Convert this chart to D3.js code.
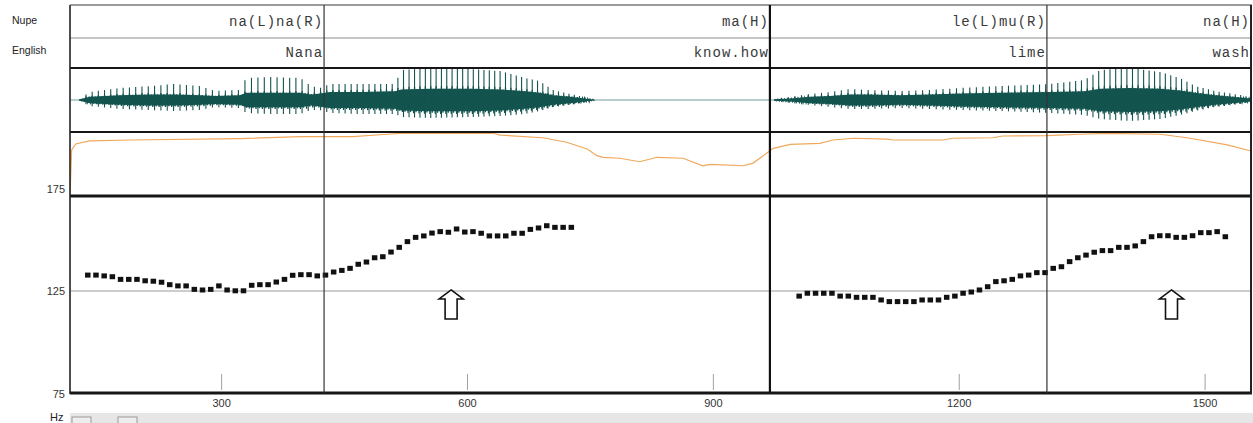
<!DOCTYPE html>
<html><head><meta charset="utf-8">
<script src="https://cdn.jsdelivr.net/npm/d3@7"></script>
<style>
html,body{margin:0;padding:0;background:#fff;}
svg{display:block;}
</style>
</head><body>
<svg id="c" width="1253" height="423"></svg>
<script>
// ---------------- DATA ----------------
const tierNames = ["Nupe", "English"];
const nupeLabels = ["na(L)na(R)", "ma(H)", "le(L)mu(R)", "na(H)"];
const englishLabels = ["Nana", "know.how", "lime", "wash"];
const intervalEnds = [425, 969, 1307, 1556];          // ms
const intervalEndThick = [false, true, false, false];
const timeDomain = [115, 1556];                         // ms
const xTicks = [300, 600, 900, 1200, 1500];
const yTicks = [75, 125, 175];                          // Hz
const gridHz = [125];

const pitch1Time = [137,147,157,167,177,187,197,207,217,227,237,247,257,267,277,287,297,307,317,327,
  337,347,357,367,377,387,397,407,417,427,437,447,457,467,477,487,497,507,517,527,
  537,547,557,567,577,587,597,607,617,627,637,647,657,667,677,687,697,707,717,727];
const pitch1Hz = [132.8,132.8,132.4,132.0,130.7,130.7,130.7,130.0,129.8,129.3,128.1,127.5,127.5,125.8,125.5,
  125.8,127.5,125.5,125.1,125.1,127.8,128.1,128.1,129.4,130.7,132.7,133.0,133.0,132.4,
  132.8,134.3,135.1,136.1,138.1,139.2,141.3,141.8,144.1,146.4,149.2,151.3,152.0,153.4,154.1,153.8,
  155.4,153.9,154.1,153.3,152.0,152.0,152.0,153.3,153.3,155.2,155.9,157.0,156.2,156.2,156.2];
const pitch2Time = [1005,1015,1025,1035,1045,1055,1065,1075,1085,1095,1105,1115,1125,1135,1145,1155,1165,1175,1185,1195,
  1205,1215,1225,1235,1245,1255,1265,1275,1285,1295,1305,1315,1325,1335,1345,1355,1365,1375,1385,1395,
  1405,1415,1425,1435,1445,1455,1465,1475,1485,1495,1505,1515,1525];
const pitch2Hz = [122.5,123.9,123.9,123.9,123.9,122.5,122.5,121.9,121.9,121.9,
  120.6,119.8,119.8,119.8,119.8,120.6,120.6,120.6,121.9,122.5,
  123.9,124.5,125.5,127.1,129.6,130.0,130.7,132.4,132.8,134.0,
  134.0,136.1,136.9,139.4,141.3,142.6,144.0,144.8,144.8,146.4,
  146.4,147.1,149.2,151.6,152.1,152.1,151.3,151.3,152.1,153.6,
  153.6,154.1,151.6];

const intTime = [115,117,122,139,188,322,396,460,502,518,631,640,692,721,746,758,765,786,810,823,
  831,863,887,896,936,948,965,973,994,1030,1046,1071,1112,1119,1180,1192,1241,1253,1307,1347,
  1380,1445,1478,1527,1556];
const intDb = [40,68.8,72.5,74.4,75.0,75.9,77.1,77.1,78.6,79.2,79.2,78.1,76.4,73.6,69.4,65.2,64.2,63.6,61.4,63.1,
  64.2,63.6,58.9,59.8,58.9,60.4,66.7,69.8,72.3,72.9,75.0,76.1,75.6,75.0,75.0,76.1,76.4,77.5,77.7,78.6,
  79.2,78.6,76.4,71.9,68.1];

// waveform envelope (amplitude units, full scale = 32)
const waveATime = [127,139,176,213,243,274,292,322,330,359,396,409,420,432,469,512,519,554,603,640,670,688,704,725,743,754];
const waveACore = [1,4,6,7,7,6,5,6,9,9,9,7,8,10,10,11,13,14,14,13,11,9,6,4,2,0];
const waveAPeak = [1,8,12,14,16,14,9,10,22,23,22,14,12,16,16,16,30,32,31,29,22,19,10,6,3,0];
const waveATrough = [1,6,9,10,11,10,7,8,13,14,14,10,10,13,14,14,17,18,17,16,14,11,7,5,2,0];
const waveBTime = [975,994,1018,1042,1067,1091,1128,1164,1201,1250,1311,1353,1372,1408,1445,1469,1488,1512,1543,1555];
const waveBCore = [1,2,4,5,7,7,6,7,8,9,10,11,14,15,14,12,9,6,3,2];
const waveBPeak = [1,3,6,8,11,10,9,10,12,14,16,20,30,32,28,22,14,9,5,3];
const waveBTrough = [1,3,5,7,9,9,8,9,10,11,13,15,19,21,19,15,11,7,4,2];

const arrowTime = [580, 1459];
const arrowHz = [125.5, 125.5];

// ---------------- LAYOUT ----------------
const L = 70, R = 1251;
const tierTop = 5, tier1Bot = 38, tier2Bot = 68, waveBot = 132, intBot = 196, pitchBot = 393;

const svg = d3.select("#c");
const x = d3.scaleLinear().domain(timeDomain).range([L, R]);
const yP = d3.scaleLinear().domain([75, 175]).range([pitchBot, 189]);
const yI = d3.scaleLinear().domain([40, 80]).range([intBot, waveBot]);
const yW = d3.scaleLinear().domain([-32, 32]).range([waveBot, tier2Bot]);

svg.append("rect").attr("x", 0).attr("y", 0).attr("width", 1253).attr("height", 423).attr("fill", "#fff");

const defs = svg.append("defs");
defs.append("clipPath").attr("id", "clipP").append("rect")
  .attr("x", L).attr("y", intBot).attr("width", R - L).attr("height", pitchBot - intBot);
defs.append("clipPath").attr("id", "clipI").append("rect")
  .attr("x", L).attr("y", waveBot).attr("width", R - L).attr("height", intBot - waveBot);

// ---------------- WAVEFORM ----------------
const gW = svg.append("g");
gW.append("line").attr("x1", L).attr("x2", R).attr("y1", yW(0)).attr("y2", yW(0))
  .attr("stroke", "#6e9c9a").attr("stroke-width", 1);
const waveCol = "#14544f";
function drawWave(tArr, core, peak, trough, pTime, pHz) {
  const coreS = d3.scaleLinear().domain(tArr).range(core);
  const peakS = d3.scaleLinear().domain(tArr).range(peak);
  const trS = d3.scaleLinear().domain(tArr).range(trough);
  const f0 = d3.scaleLinear().domain(pTime).range(pHz).clamp(true);
  const pulses = [];
  for (let t = tArr[0]; t < tArr[tArr.length - 1]; t += 1000 / f0(t)) pulses.push(t);
  const zz = [];
  pulses.forEach((t) => {
    const c = coreS(t);
    zz.push([x(t), yW(c)]);
    zz.push([x(t) + 1.5, yW(-c * 0.9)]);
    zz.push([x(t) + 3, yW(c * 0.8)]);
    zz.push([x(t) + 4.5, yW(-c)]);
  });
  const rows = tArr.map((t, i) => ({t, c: core[i]}));
  gW.append("path").datum(rows)
    .attr("d", d3.area().x(d => x(d.t)).y0(d => yW(-d.c * 0.8)).y1(d => yW(d.c * 0.8)))
    .attr("fill", waveCol);
  gW.append("path").datum(zz).attr("d", d3.line())
    .attr("fill", "none").attr("stroke", waveCol).attr("stroke-width", 1.2);
  gW.selectAll(null).data(pulses).enter().append("line")
    .attr("x1", d => x(d)).attr("x2", d => x(d))
    .attr("y1", d => yW(peakS(d))).attr("y2", d => yW(-trS(d)))
    .attr("stroke", waveCol).attr("stroke-width", 1.1);
}
drawWave(waveATime, waveACore, waveAPeak, waveATrough, pitch1Time, pitch1Hz);
drawWave(waveBTime, waveBCore, waveBPeak, waveBTrough, pitch2Time, pitch2Hz);

// ---------------- INTENSITY ----------------
svg.append("path").datum(intTime.map((t, i) => ({t, v: intDb[i]})))
  .attr("clip-path", "url(#clipI)")
  .attr("d", d3.line().x(d => x(d.t)).y(d => yI(d.v)))
  .attr("fill", "none").attr("stroke", "#f0a85a").attr("stroke-width", 1.2);

// ---------------- PITCH PANEL ----------------
const gP = svg.append("g").attr("clip-path", "url(#clipP)");
gP.selectAll(null).data(gridHz).enter().append("line")
  .attr("x1", L).attr("x2", R).attr("y1", d => yP(d)).attr("y2", d => yP(d))
  .attr("stroke", "#9a9a9a").attr("stroke-width", 1);
gP.selectAll(null).data(xTicks).enter().append("line")
  .attr("x1", d => x(d)).attr("x2", d => x(d)).attr("y1", 374).attr("y2", 390)
  .attr("stroke", "#a0a0a0").attr("stroke-width", 1);

const pts = pitch1Time.map((t, i) => ({t, hz: pitch1Hz[i]}))
  .concat(pitch2Time.map((t, i) => ({t, hz: pitch2Hz[i]})));
gP.selectAll(null).data(pts).enter().append("rect")
  .attr("x", d => x(d.t) - 3).attr("y", d => yP(d.hz) - 2.5)
  .attr("width", 5.5).attr("height", 5).attr("fill", "#111");

const arrows = arrowTime.map((t, i) => ({t, hz: arrowHz[i]}));
gP.selectAll(null).data(arrows).enter().append("path")
  .attr("d", d => {
    const cx = x(d.t), ty = yP(d.hz);
    return `M${cx},${ty} L${cx + 12},${ty + 9} L${cx + 6},${ty + 9} L${cx + 6},${ty + 29} ` +
      `L${cx - 6},${ty + 29} L${cx - 6},${ty + 9} L${cx - 12},${ty + 9} Z`;
  })
  .attr("fill", "#fff").attr("stroke", "#111").attr("stroke-width", 1.6);

// ---------------- FRAME / TIERS ----------------
const gF = svg.append("g");
gF.append("line").attr("x1", L).attr("x2", R + 1).attr("y1", tierTop).attr("y2", tierTop)
  .attr("stroke", "#7a7a7a").attr("stroke-width", 1.5);
gF.append("line").attr("x1", L).attr("x2", R + 1).attr("y1", tier1Bot).attr("y2", tier1Bot)
  .attr("stroke", "#8c8c8c").attr("stroke-width", 1);
[[tier2Bot, 2], [waveBot, 2.2], [intBot, 3], [pitchBot, 3]].forEach(([y, w]) => {
  gF.append("line").attr("x1", L).attr("x2", R + 1).attr("y1", y).attr("y2", y)
    .attr("stroke", "#161616").attr("stroke-width", w);
});
gF.append("line").attr("x1", L).attr("x2", L).attr("y1", tierTop).attr("y2", pitchBot + 1)
  .attr("stroke", "#222").attr("stroke-width", 1.6);
gF.append("line").attr("x1", R).attr("x2", R).attr("y1", tierTop).attr("y2", pitchBot + 1)
  .attr("stroke", "#222").attr("stroke-width", 2);
intervalEnds.slice(0, 3).forEach((t, i) => {
  gF.append("line").attr("x1", x(t)).attr("x2", x(t)).attr("y1", tierTop).attr("y2", pitchBot)
    .attr("stroke", intervalEndThick[i] ? "#111" : "#333")
    .attr("stroke-width", intervalEndThick[i] ? 2.2 : 1.2);
});

const monoFont = "'Liberation Mono', 'DejaVu Sans Mono', monospace";
function tierText(labels, yc) {
  svg.selectAll(null).data(labels).enter().append("text")
    .attr("x", (d, i) => x(intervalEnds[i]) - 1)
    .attr("y", yc).attr("dy", "0.35em")
    .attr("text-anchor", "end")
    .attr("font-family", monoFont).attr("font-size", 14)
    .attr("letter-spacing", "1px")
    .attr("fill", "#3a3a3a").text(d => d);
}
tierText(nupeLabels, 21);
tierText(englishLabels, 52);

const sansFont = "'Liberation Sans', Arial, sans-serif";
svg.selectAll(null).data(tierNames).enter().append("text")
  .attr("x", 12).attr("y", (d, i) => i === 0 ? 20 : 50).attr("dy", "0.35em")
  .attr("font-family", sansFont).attr("font-size", 10.5).attr("fill", "#222").text(d => d);

svg.selectAll(null).data(yTicks).enter().append("text")
  .attr("x", 65).attr("y", d => d === 75 ? yP(d) + 1 : yP(d)).attr("dy", "0.35em")
  .attr("text-anchor", "end").attr("font-family", sansFont).attr("font-size", 11)
  .attr("fill", "#333").text(d => d);

svg.selectAll(null).data(xTicks).enter().append("text")
  .attr("x", d => x(d)).attr("y", 403).attr("dy", "0.35em")
  .attr("text-anchor", "middle").attr("font-family", sansFont).attr("font-size", 11)
  .attr("fill", "#333").text(d => d);

svg.append("text").attr("x", 50).attr("y", 417).attr("dy", "0.35em")
  .attr("font-family", sansFont).attr("font-size", 11).attr("fill", "#222").text("Hz");

svg.append("rect").attr("x", L).attr("y", 413).attr("width", 1253 - L).attr("height", 10)
  .attr("fill", "#e6e6e6");
svg.append("rect").attr("x", 72).attr("y", 417).attr("width", 19).attr("height", 8)
  .attr("fill", "#eee").attr("stroke", "#999").attr("stroke-width", 1);
svg.append("rect").attr("x", 118).attr("y", 417).attr("width", 19).attr("height", 8)
  .attr("fill", "#eee").attr("stroke", "#999").attr("stroke-width", 1);
</script>
</body></html>
